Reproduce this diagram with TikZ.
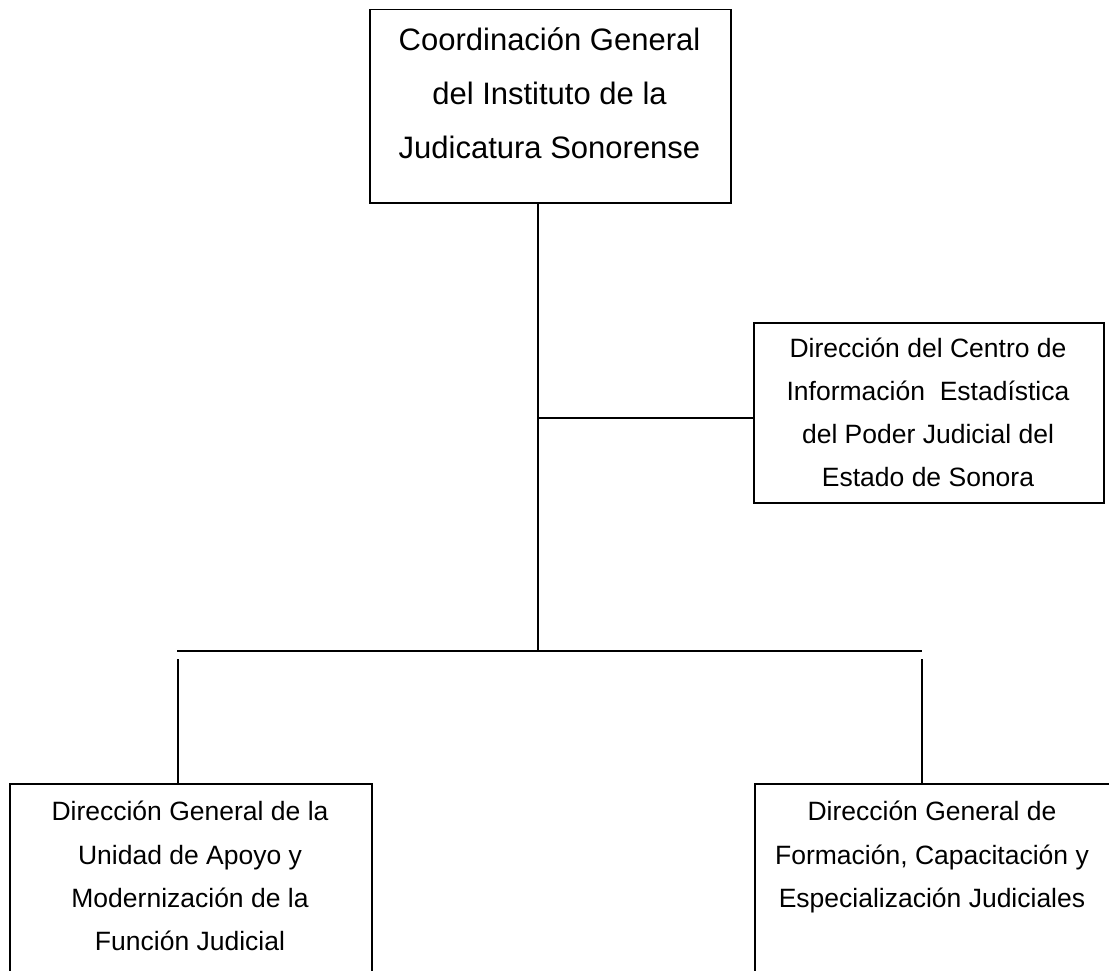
\documentclass[tikz,border=0pt]{standalone}
\usepackage{fontspec}
\setmainfont{Liberation Sans}
\begin{document}
\begin{tikzpicture}[x=1pt,y=-1pt,line width=1.5pt,
  box/.style={draw,rectangle,anchor=north west,inner sep=0pt},
  bigline/.style={anchor=base,inner sep=0pt,font=\fontsize{31}{31}\selectfont},
  smline/.style={anchor=base,inner sep=0pt,font=\fontsize{26.5}{26.5}\selectfont}]
\useasboundingbox (0,0) rectangle (1109,971);
\clip (0,0) rectangle (1109,971);
% boxes
\node[box,minimum width=361pt,minimum height=193pt] (top) at (369,9) {};
\node[box,minimum width=350pt,minimum height=180pt] (right) at (753,322) {};
\node[box,minimum width=362pt,minimum height=260pt] (bl) at (9,783) {};
\node[box,minimum width=362pt,minimum height=260pt] (br) at (754,783) {};
% texts
\node[bigline] (t1) at (549.5,51) {Coordinación General};
\node[bigline] (t2) at (549.5,105) {del Instituto de la};
\node[bigline] (t3) at (549.5,159) {Judicatura Sonorense};
\node[smline] (r1) at (928,357) {Dirección del Centro de};
\node[smline] (r2) at (928,400) {Información~ Estadística};
\node[smline] (r3) at (928,443) {del Poder Judicial del};
\node[smline] (r4) at (928,486) {Estado de Sonora};
\node[smline] (l1) at (190,820) {Dirección General de la};
\node[smline] (l2) at (190,864) {Unidad de Apoyo y};
\node[smline] (l3) at (190,907) {Modernización de la};
\node[smline] (l4) at (190,950) {Función Judicial};
\node[smline] (b1) at (932,820) {Dirección General de};
\node[smline] (b2) at (932,864) {Formación, Capacitación y};
\node[smline] (b3) at (932,907) {Especialización Judiciales};
% connectors
\coordinate (trunkTop) at (538,202);
\coordinate (trunkBot) at (538,651);
\coordinate (branch) at (538,418);
\coordinate (barL) at (177,651);
\coordinate (barR) at (922,651);
\coordinate (dropL) at (178,659);
\coordinate (dropR) at (922,659);
\draw (trunkTop) -- (trunkBot);
\draw (branch) -- (branch -| right.west);
\draw (barL) -- (barR);
\draw (dropL) -- (dropL |- bl.north);
\draw (dropR) -- (dropR |- br.north);
\end{tikzpicture}
\end{document}
